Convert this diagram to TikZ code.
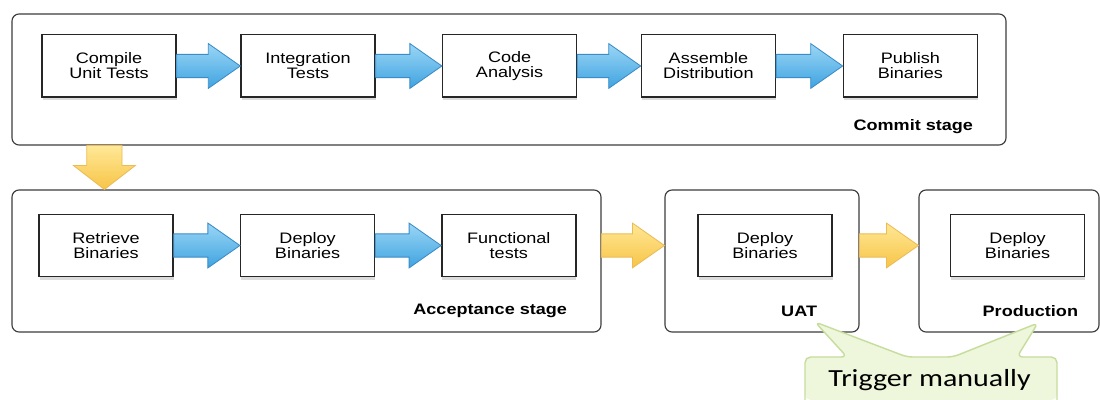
\documentclass[tikz,border=0pt]{standalone}
\usepackage{fontspec}
\setmainfont{Liberation Sans}[FakeStretch=1.19]
\newfontfamily\callfont{Carlito}[FakeStretch=1.22]
\usetikzlibrary{calc,shadows}
\definecolor{stageline}{HTML}{3C3C3C}
\definecolor{taskline}{HTML}{262626}
\definecolor{bluetop}{HTML}{9AD6F6}
\definecolor{bluebot}{HTML}{3FA3E0}
\definecolor{blueedge}{HTML}{3A8CC8}
\definecolor{yeltop}{HTML}{FFE896}
\definecolor{yelbot}{HTML}{F7C447}
\definecolor{yeledge}{HTML}{EDBB55}
\definecolor{callfill}{HTML}{EEF6DC}
\definecolor{calledge}{HTML}{C6DD9C}
\tikzset{
    stage/.style={draw=stageline, line width=0.8pt, rounded corners=5pt, inner sep=0pt},
    task/.style={draw=taskline, line width=1pt, fill=white, minimum width=3.35cm, minimum height=1.56cm, align=center,
        font=\fontsize{10.8}{10.6}\selectfont, drop shadow={shadow xshift=0.4pt, shadow yshift=-2pt, opacity=0.28}},
    tag/.style={anchor=east, font=\bfseries\fontsize{10.8}{13}\selectfont},
    bluearr/.style={draw=blueedge, line width=0.6pt, top color=bluetop, bottom color=bluebot},
    yelarr/.style={draw=yeledge, line width=0.6pt, top color=yeltop, bottom color=yelbot}
}
% fat arrows between two named points
\newcommand{\hfat}[3]{%
    \path[#1] let \p1=(#2), \p2=(#3) in
        (\x1,\y1+0.29cm) -- (\x2-0.8cm,\y1+0.29cm) -- (\x2-0.8cm,\y1+0.56cm) -- (\x2,\y1)
        -- (\x2-0.8cm,\y1-0.56cm) -- (\x2-0.8cm,\y1-0.29cm) -- (\x1,\y1-0.29cm) -- cycle;}
\newcommand{\vfat}[3]{%
    \path[#1] let \p1=(#2), \p2=(#3) in
        (\x1-0.44cm,\y1) -- (\x1-0.44cm,\y2+0.6cm) -- (\x1-0.775cm,\y2+0.6cm) -- (\x1,\y2)
        -- (\x1+0.775cm,\y2+0.6cm) -- (\x1+0.44cm,\y2+0.6cm) -- (\x1+0.44cm,\y1) -- cycle;}

\begin{document}
\begin{tikzpicture}
        \fill[white] (0,0) rectangle (27.5,10);
        \useasboundingbox (0,0) rectangle (27.5,10);

        % --- Stages ---
        \node [stage, minimum width=24.85cm, minimum height=3.275cm] (commit) at (12.725, 8.0125) {};
        \node [stage, minimum width=14.725cm, minimum height=3.55cm] (accept) at (7.6625, 3.475) {};
        \node [stage, minimum width=4.85cm, minimum height=3.55cm] (uat) at (19.05, 3.475) {};
        \node [stage, minimum width=4.5cm, minimum height=3.55cm] (prod) at (25.225, 3.475) {};

        % --- Commit stage ---
        \node [task] (compile)  at (2.725, 8.35) {Compile\\Unit Tests};
        \node [task] (integ)    at (7.7, 8.35)   {Integration\\Tests};
        \node [task] (analysis) at (12.74, 8.35) {Code\\Analysis};
        \node [task] (assemble) at (17.71, 8.35) {Assemble\\Distribution};
        \node [task] (publish)  at (22.76, 8.35) {Publish\\Binaries};
        \node [tag] (committag) at (24.45, 6.825) {Commit stage};

        \hfat{bluearr}{compile.east}{integ.west}
        \hfat{bluearr}{integ.east}{analysis.west}
        \hfat{bluearr}{analysis.east}{assemble.west}
        \hfat{bluearr}{assemble.east}{publish.west}

        % --- Acceptance stage ---
        \node [task] (retrieve)  at (2.65, 3.8625)  {Retrieve\\Binaries};
        \node [task] (deployacc) at (7.69, 3.8625)  {Deploy\\Binaries};
        \node [task] (functests) at (12.72, 3.8625) {Functional\\tests};
        \node [tag] (accepttag) at (14.3, 2.225) {Acceptance stage};

        \hfat{bluearr}{retrieve.east}{deployacc.west}
        \hfat{bluearr}{deployacc.east}{functests.west}

        % --- UAT and Production ---
        \node [task] (deployuat)  at (19.125, 3.8625) {Deploy\\Binaries};
        \node [tag] (uattag) at (20.55, 2.225) {UAT};
        \node [task] (deployprod) at (25.44, 3.8625) {Deploy\\Binaries};
        \node [tag] (prodtag) at (27.075, 2.225) {Production};

        % --- Stage to stage ---
        \coordinate (drop) at (2.61, 0);
        \vfat{yelarr}{commit.south -| drop}{accept.north -| drop}
        \hfat{yelarr}{functests -| accept.east}{deployuat -| uat.west}
        \hfat{yelarr}{deployuat -| uat.east}{deployprod -| prod.west}

        % --- Callout ---
        \fill [callfill, rounded corners=4pt] (20.125,0) -- (20.125,1.075) -- (21.175,1.075) -- (20.375,1.95) -- (22.675,1.075)
            -- (23.825,1.075) -- (25.95,1.925) -- (25.425,1.075) -- (26.425,1.075) -- (26.425,0) -- cycle;
        \draw [calledge, line width=1pt, rounded corners=4pt] (20.125,0) -- (20.125,1.075) -- (21.175,1.075) -- (20.375,1.95) -- (22.675,1.075)
            -- (23.825,1.075) -- (25.95,1.925) -- (25.425,1.075) -- (26.425,1.075) -- (26.425,0);
        \node [anchor=base, font=\callfont\fontsize{17.5}{20}\selectfont] (trigger) at (23.24, 0.325) {Trigger manually};

    \end{tikzpicture}
\end{document}
